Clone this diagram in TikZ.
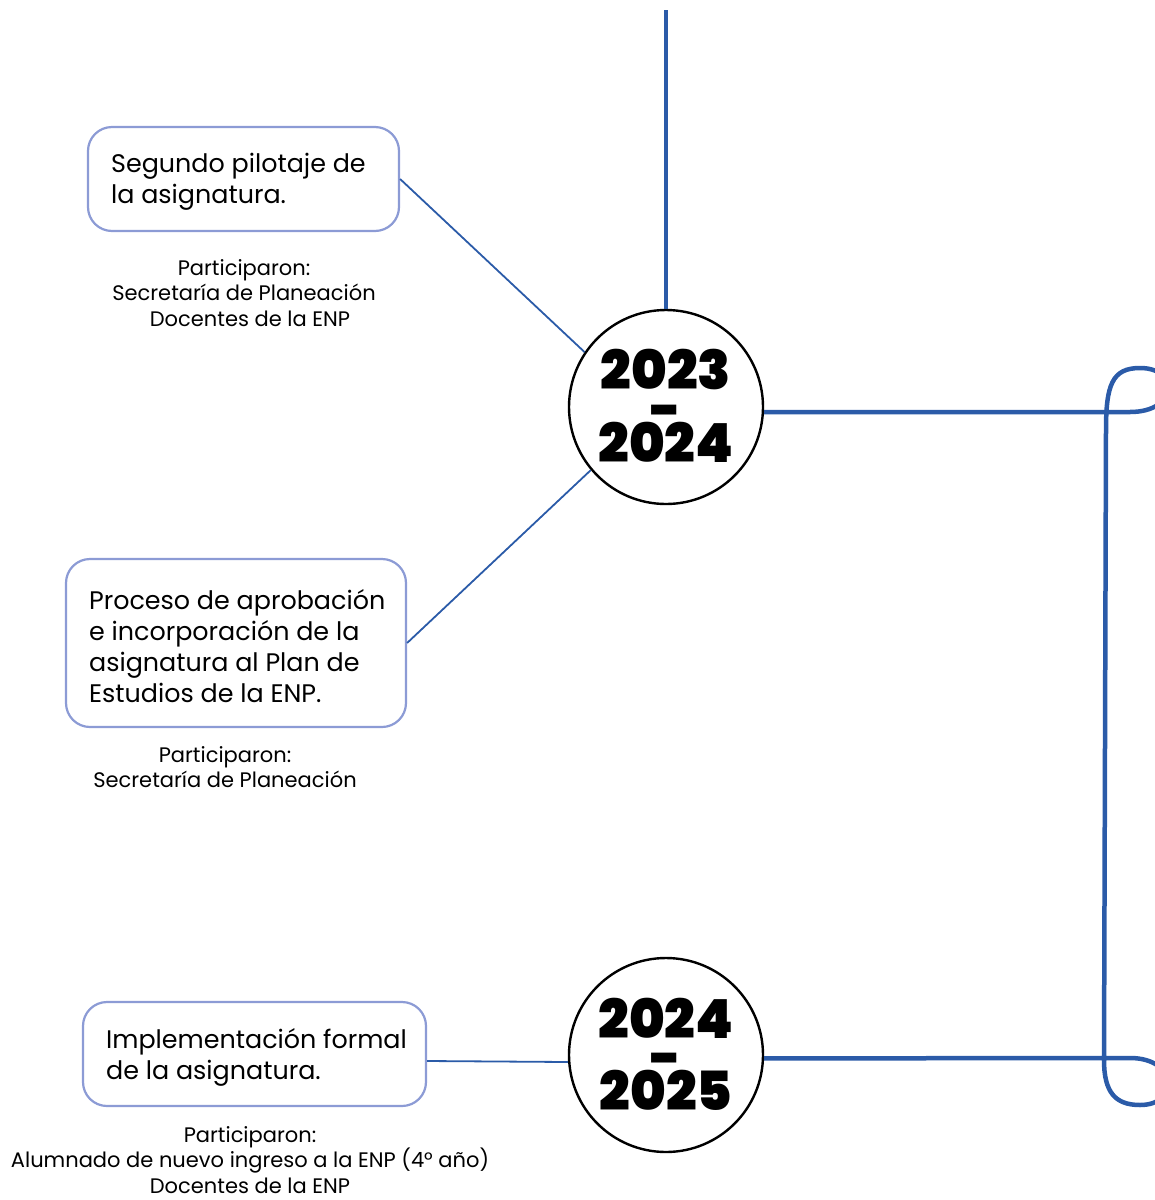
\documentclass[tikz,border=0pt]{standalone}
\usepackage{fontspec}
\setmainfont{Poppins}
\newfontfamily\yearfont{Poppins Black}
\begin{document}
\begin{tikzpicture}[x=1pt,y=-1pt,
  timeline/.style={draw=lineblue,line width=4.5pt},
  link/.style={draw=lineblue,line width=1.8pt},
  eventbox/.style={draw=boxborder,line width=2.2pt,rounded corners=24pt,fill=white,inner sep=0pt},
  eventtext/.style={anchor=west,align=left,inner sep=0pt,font=\fontsize{25.4}{30.8}\selectfont},
  people/.style={align=center,inner sep=0pt,font=\fontsize{21}{25.3}\selectfont},
  yearcircle/.style={circle,draw=black,line width=2.4pt,fill=white,minimum size=194pt,inner sep=0pt},
  yeartext/.style={inner sep=0pt,font=\yearfont\fontsize{54}{54}\selectfont}]
\definecolor{lineblue}{HTML}{2B5BA8}
\definecolor{boxborder}{HTML}{8C9BD5}
\useasboundingbox (0,0) rectangle (1155,1200);

% year circles
\node[yearcircle] (c1) at (666,407) {};
\node[yearcircle] (c2) at (666,1055) {};
\node[yeartext] (y1a) at ([yshift=37pt]c1.center) {2023};
\node[yeartext,anchor=base] (y1b) at ([yshift=-21pt]c1.center) {-};
\node[yeartext] (y1c) at ([yshift=-35pt]c1.center) {2024};
\node[yeartext] (y2a) at ([yshift=37pt]c2.center) {2024};
\node[yeartext,anchor=base] (y2b) at ([yshift=-21pt]c2.center) {-};
\node[yeartext] (y2c) at ([yshift=-35pt]c2.center) {2025};

% event boxes
\node[eventbox,minimum width=311pt,minimum height=104pt] (b1) at (243.5,179) {};
\node[eventbox,minimum width=340pt,minimum height=168pt] (b2) at (236,643) {};
\node[eventbox,minimum width=343pt,minimum height=104pt] (b3) at (254.5,1054) {};
\node[eventtext] (t1) at ([xshift=24pt,yshift=-3pt]b1.west) {Segundo pilotaje de\\la asignatura.};
\node[eventtext] (t2) at ([xshift=24pt,yshift=-3pt]b2.west) {Proceso de aprobación\\e incorporación de la\\asignatura al Plan de\\Estudios de la ENP.};
\node[eventtext] (t3) at ([xshift=24pt,yshift=-3pt]b3.west) {Implementación formal\\de la asignatura.};

% participants
\node[people] (p1) at (244,293) {Participaron:\\Secretaría de Planeación\\\hspace*{12pt}Docentes de la ENP};
\node[people] (p2) at (225,767) {Participaron:\\Secretaría de Planeación};
\node[people] (p3) at (250,1160) {Participaron:\\Alumnado de nuevo ingreso a la ENP (4° año)\\Docentes de la ENP};

% connectors
\coordinate (top) at (666,10);
\draw[timeline] (top) -- (c1.north);
\draw[link] (b1.east) -- (c1.146);
\draw[link] (b2.east) -- (c1.220);
\draw[link] ([yshift=-7pt]b3.east) -- ([yshift=-7pt]c2.west);

% right-hand loop joining the two years
\begin{scope}
\clip (0,0) rectangle (1155,1200);
\draw[timeline] (c1.-3) -- (1130,412)
  .. controls (1178,412) and (1180,368) .. (1140,368)
  .. controls (1112,368) and (1106,385) .. (1106,430)
  -- (1104,1060)
  .. controls (1104,1092) and (1115,1105) .. (1140,1105)
  .. controls (1180,1105) and (1178,1058) .. (1130,1058)
  -- (c2.-2);
\end{scope}
\end{tikzpicture}
\end{document}
